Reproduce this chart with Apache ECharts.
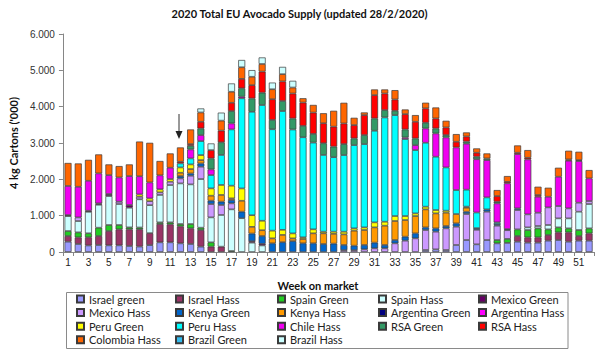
<!DOCTYPE html>
<html><head><meta charset="utf-8">
<script src="https://cdn.jsdelivr.net/npm/echarts@6/dist/echarts.min.js"></script>
<style>html,body{margin:0;padding:0;background:#fff}#c{width:600px;height:351px}</style>
</head><body><div id="c"></div>
<script>
const weeks = ['1','2','3','4','5','6','7','8','9','10','11','12','13','14','15','16','17','18','19','20','21','22','23','24','25','26','27','28','29','30','31','32','33','34','35','36','37','38','39','40','41','42','43','44','45','46','47','48','49','50','51','52'];
const yTicks = ['0','1.000','2.000','3.000','4.000','5.000','6.000'];

const israelGreen = [284,220,180,192,183,183,165,150,190,266, 266,238,220,147,0,0,0,0,0,0, 0,0,0,0,0,0,0,0,0,0, 0,0,0,0,0,55,73,55,193,330, 211,330,238,250,284,257,257,312,330,284, 312,312];
const israelHass = [156,183,225,248,394,440,458,475,330,504, 495,468,431,458,147,147,0,0,0,0, 0,0,0,0,0,0,0,0,0,0, 0,0,0,0,0,0,0,0,0,0, 0,0,0,0,156,146,146,156,211,257, 128,201];
const spainGreen = [137,138,110,229,166,120,55,50,0,46, 55,64,119,64,119,0,28,0,0,0, 0,0,0,0,0,0,0,0,0,0, 0,0,0,0,0,0,0,0,0,0, 0,0,92,110,183,202,248,155,137,110, 165,138];
const spainHass = [410,311,590,631,797,577,541,775,770,754, 1027,1118,1091,1339,687,872,1146,930,257,180, 0,0,0,0,0,0,0,0,0,0, 0,0,0,0,0,0,0,0,0,0, 0,0,0,0,0,73,64,120,248,275, 504,669];
const mexicoGreen = [30,0,30,38,55,0,74,0,0,0, 0,0,0,0,0,0,0,0,40,45, 0,0,0,0,0,0,0,0,0,0, 0,0,0,0,0,0,0,0,0,0, 0,0,0,0,0,0,0,0,0,0, 0,0];
const mexicoHass = [0,100,0,0,0,64,0,70,110,73, 91,137,238,339,367,275,165,0,0,0, 0,0,0,0,0,0,0,50,50,73, 101,101,238,312,376,550,486,596,504,715, 400,779,394,240,532,358,367,485,339,275, 248,83];
const kenyaGreen = [0,0,0,0,0,0,0,0,0,0, 0,64,64,91,92,92,92,180,211,215, 239,270,300,239,239,220,230,143,124,120, 156,92,92,110,137,73,92,64,91,64, 46,64,46,30,46,0,0,0,0,0, 0,0];
const kenyaHass = [0,0,0,0,0,0,0,0,0,0, 0,92,120,92,137,184,46,300,184,160, 137,200,75,119,275,294,270,293,413,412, 421,531,523,458,477,495,412,367,257,110, 0,0,0,0,0,0,0,0,0,0, 0,0];
const argentinaGreen = [0,0,0,0,0,0,0,0,0,0, 0,0,0,0,0,0,0,0,0,0, 0,0,0,0,0,0,0,0,0,0, 0,0,0,0,0,0,0,0,0,0, 0,0,0,0,0,0,0,0,0,0, 0,0];
const argentinaHass = [0,0,0,0,0,0,0,0,0,0, 0,0,0,0,0,0,0,0,0,0, 0,0,0,0,0,0,0,0,0,0, 0,0,0,0,0,0,0,0,0,0, 0,0,0,0,0,0,0,0,0,0, 0,0];
const peruGreen = [0,0,0,0,0,0,0,65,75,82, 74,147,128,138,202,275,348,340,321,260, 212,140,137,46,110,46,60,73,64,73, 138,110,137,110,73,74,92,55,0,30, 0,0,0,0,0,0,0,0,0,0, 0,0];
const peruHass = [0,0,0,0,0,0,0,0,0,0, 0,110,165,385,367,826,1549,2480,2846,3185, 2790,3270,2860,2754,2387,2111,2050,2109,2291,2292, 2521,2869,2778,2118,1742,1760,1467,1191,660,466, 430,330,46,0,0,0,0,0,0,0, 0,0];
const chileHass = [800,844,825,825,522,669,797,500,440,385, 311,0,247,165,155,0,165,45,0,0, 0,0,0,0,0,0,0,0,0,0, 0,0,0,45,137,394,641,825,1173,1265, 1466,1027,522,1260,1494,1512,440,294,807,1311, 1146,623];
const rsaGreen = [0,0,0,0,0,0,0,0,0,0, 0,0,101,183,303,349,339,230,367,340, 257,275,303,312,239,322,290,302,184,248, 339,202,119,220,184,156,138,65,0,60, 70,45,46,0,0,0,0,0,0,0, 0,0];
const rsaHass = [0,0,0,0,0,0,0,0,0,0, 0,46,46,183,229,321,229,260,367,580, 570,540,687,643,587,550,550,568,367,550, 642,458,311,422,458,396,275,210,156,140, 110,0,156,40,37,46,46,0,0,36, 27,0];
const colombiaHass = [633,641,577,523,294,312,321,955,1090,395, 394,394,403,257,0,275,303,320,230,210, 275,200,165,119,211,276,437,569,201,73, 156,111,257,128,184,156,302,184,211,111, 118,138,165,160,201,211,229,247,247,239, 229,229];
const brazilGreen = [0,0,0,0,0,0,0,0,0,0, 0,0,0,0,0,0,0,0,0,0, 0,0,0,0,0,0,0,0,0,0, 0,0,0,0,0,0,0,0,0,0, 0,0,0,0,0,0,0,0,0,0, 0,0];
const brazilHass = [0,0,0,0,0,0,0,0,0,0, 0,0,0,110,183,220,229,200,183,180, 183,200,185,0,0,0,0,0,0,0, 0,0,0,0,0,0,0,0,0,0, 0,0,0,0,0,0,0,0,0,0, 0,0];

const seriesDefs = [
  ['Israel green', israelGreen, '#9999FF'],
  ['Israel Hass', israelHass, '#993366'],
  ['Spain Green', spainGreen, '#22CC22'],
  ['Spain Hass', spainHass, '#CCFFFF'],
  ['Mexico Green', mexicoGreen, '#660066'],
  ['Mexico Hass', mexicoHass, '#CC99FF'],
  ['Kenya Green', kenyaGreen, '#0066CC'],
  ['Kenya Hass', kenyaHass, '#FF9900'],
  ['Argentina Green', argentinaGreen, '#000080'],
  ['Argentina Hass', argentinaHass, '#FF00FF'],
  ['Peru Green', peruGreen, '#FFFF00'],
  ['Peru Hass', peruHass, '#00FFFF'],
  ['Chile Hass', chileHass, '#F000F0'],
  ['RSA Green', rsaGreen, '#339966'],
  ['RSA Hass', rsaHass, '#FF0000'],
  ['Colombia Hass', colombiaHass, '#FF6600'],
  ['Brazil Green', brazilGreen, '#33BBEE'],
  ['Brazil Hass', brazilHass, '#CCFFFF']
];

const legendCols = [
  ['Israel green','Mexico Hass','Peru Green','Colombia Hass'],
  ['Israel Hass','Kenya Green','Peru Hass','Brazil Green'],
  ['Spain Green','Kenya Hass','Chile Hass','Brazil Hass'],
  ['Spain Hass','Argentina Green','RSA Green'],
  ['Mexico Green','Argentina Hass','RSA Hass']
];
const legendX = [76, 175, 277, 378, 478];

const chart = echarts.init(document.getElementById('c'), null, {renderer: 'svg'});
chart.setOption({
  animation: false,
  backgroundColor: '#fff',
  grid: {left: 55.5, right: 5.8, top: 34, bottom: 99, containLabel: false},
  xAxis: {
    type: 'category', data: weeks,
    axisLine: {lineStyle: {color: '#868686', width: 1}},
    axisTick: {show: true, interval: 0, length: 4, lineStyle: {color: '#868686'}},
    axisLabel: {interval: 1, fontSize: 10, color: '#222', fontFamily: 'Liberation Sans', margin: 5}
  },
  yAxis: {
    type: 'value', min: 0, max: 6000, interval: 1000,
    name: "4 kg Cartons ('000)", nameLocation: 'middle', nameGap: 40, nameRotate: 90,
    nameTextStyle: {fontFamily: 'Lato', fontWeight: 'bold', fontSize: 11, color: '#111'},
    axisLine: {show: true, lineStyle: {color: '#868686', width: 1}},
    axisTick: {show: true, length: 4, lineStyle: {color: '#868686'}},
    splitLine: {show: false},
    axisLabel: {fontSize: 10, color: '#333', fontFamily: 'Liberation Sans', margin: 8,
      formatter: (v) => yTicks[Math.round(v / 1000)]}
  },
  legend: legendCols.map((names, i) => ({
    orient: 'vertical', left: legendX[i], top: 293, padding: 0,
    data: names, icon: 'rect', itemWidth: 7, itemHeight: 7, itemGap: 1.6,
    textStyle: {fontFamily: 'Lato', fontSize: 11, color: '#222', lineHeight: 12}
  })),
  graphic: [
    {type: 'text', left: 'center', top: 8, style: {text: '2020 Total EU Avocado Supply (updated 28/2/2020)', font: 'bold 11px Lato', fill: '#111'}},
    {type: 'text', x: 318, y: 285, style: {text: 'Week on market', font: 'bold 11px Lato', fill: '#111', textAlign: 'center', textVerticalAlign: 'middle'}},
    {type: 'rect', shape: {x: 66.5, y: 292.5, width: 501.5, height: 56}, style: {fill: 'none', stroke: '#8a8a8a', lineWidth: 1}},
    {type: 'line', shape: {x1: 179, y1: 114, x2: 179, y2: 133}, style: {stroke: '#333', lineWidth: 1}},
    {type: 'polygon', shape: {points: [[175.5, 131], [182.5, 131], [179, 139]]}, style: {fill: '#222'}}
  ],
  series: seriesDefs.map(([name, vals, color]) => ({
    name, type: 'bar', stack: 'total', barWidth: 7,
    data: vals.map(v => v === 0 ? null : v),
    itemStyle: {color, borderColor: '#3a3a3a', borderWidth: 0.7}
  }))
});
</script></body></html>
